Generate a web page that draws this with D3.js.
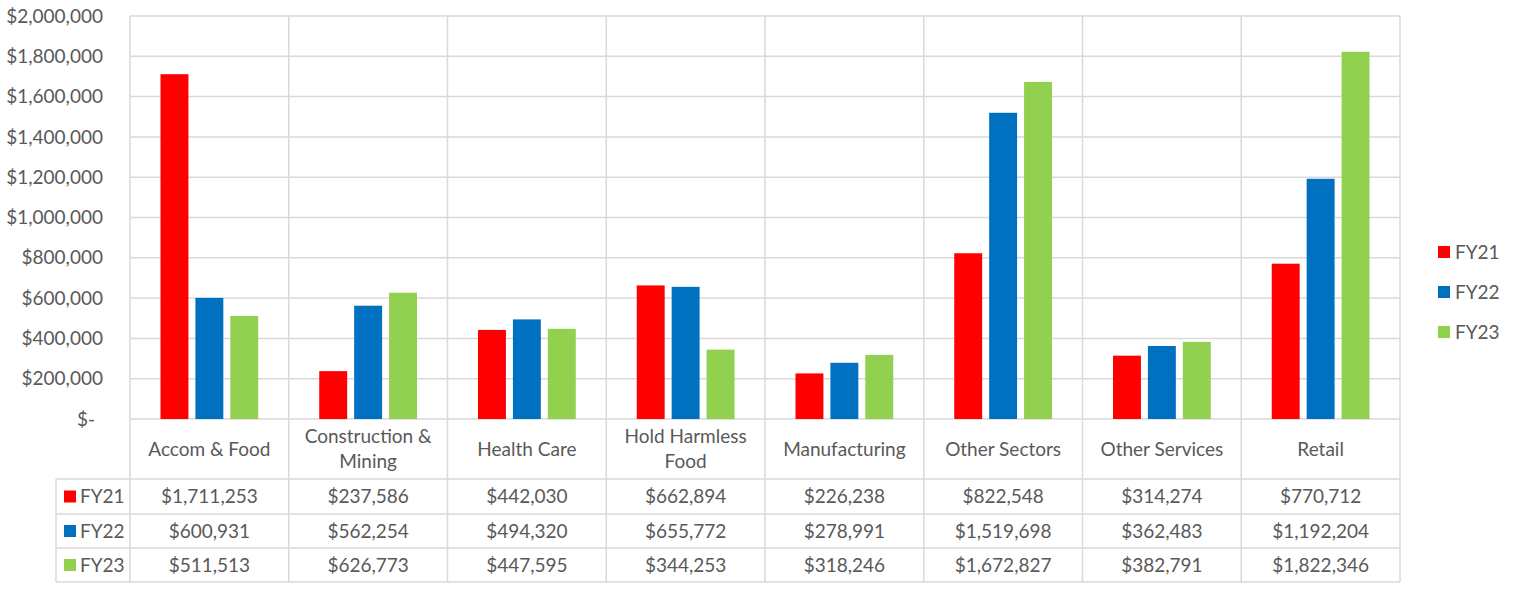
<!DOCTYPE html>
<html><head><meta charset="utf-8">
<script src="https://cdn.jsdelivr.net/npm/d3@7"></script>
<style>
html,body{margin:0;padding:0;background:#fff;}
text{font-family:Lato,"Open Sans",sans-serif;fill:#595959;}
</style></head>
<body><svg id="c" width="1518" height="590"></svg>
<script>
const categories = ["Accom & Food","Construction & Mining","Health Care","Hold Harmless Food","Manufacturing","Other Sectors","Other Services","Retail"];
const categoryLines = [["Accom & Food"],["Construction &","Mining"],["Health Care"],["Hold Harmless","Food"],["Manufacturing"],["Other Sectors"],["Other Services"],["Retail"]];
const seriesNames = ["FY21","FY22","FY23"];
const seriesColors = ["#ff0000","#0070c0","#92d050"];
const fy21 = [1711253,237586,442030,662894,226238,822548,314274,770712];
const fy22 = [600931,562254,494320,655772,278991,1519698,362483,1192204];
const fy23 = [511513,626773,447595,344253,318246,1672827,382791,1822346];
const yTicks = [0,200000,400000,600000,800000,1000000,1200000,1400000,1600000,1800000,2000000];

const seriesValues = [fy21, fy22, fy23];
const svg = d3.select("#c");
const L = 130, R = 1400, T = 16, B = 419;
const catRowBottom = 479, rowB = [514, 548, 582], tableLeft = 56;
const grid = "#d9d9d9";
const fs = "19px";

const x = d3.scaleBand().domain(categories).range([L, R]).paddingInner(0).paddingOuter(0);
const inner = d3.scaleBand().domain(seriesNames).range([30.5, x.bandwidth() - 30.5]).paddingInner(0.2).paddingOuter(0);
const y = d3.scaleLinear().domain([0, 2000000]).range([B, T]);

const fmt = d3.format(",");
const money = v => "$" + fmt(v);

svg.append("g").selectAll("line").data(yTicks).join("line")
  .attr("x1", L).attr("x2", R).attr("y1", d => y(d)).attr("y2", d => y(d))
  .attr("stroke", grid).attr("stroke-width", 1.5);

svg.append("g").selectAll("text").data(yTicks).join("text")
  .attr("x", d => d === 0 ? 95 : 103).attr("y", d => y(d)).attr("dy", "0.35em")
  .attr("text-anchor", "end").style("font-size", fs)
  .text(d => d === 0 ? "$-" : money(d));

const bounds = categories.map(c => x(c)).concat([R]);
svg.append("g").selectAll("line").data(bounds).join("line")
  .attr("x1", d => d).attr("x2", d => d).attr("y1", T).attr("y2", rowB[2])
  .attr("stroke", grid).attr("stroke-width", 1.5);

svg.append("g").selectAll("line").data([catRowBottom].concat(rowB)).join("line")
  .attr("x1", tableLeft).attr("x2", R).attr("y1", d => d).attr("y2", d => d)
  .attr("stroke", grid).attr("stroke-width", 1.5);
svg.append("line").attr("x1", tableLeft).attr("x2", tableLeft).attr("y1", catRowBottom).attr("y2", rowB[2])
  .attr("stroke", grid).attr("stroke-width", 1.5);

seriesNames.forEach((s, si) => {
  svg.append("g").selectAll("rect").data(categories).join("rect")
    .attr("x", c => x(c) + inner(s)).attr("width", inner.bandwidth())
    .attr("y", (c, i) => y(seriesValues[si][i])).attr("height", (c, i) => B - y(seriesValues[si][i]))
    .attr("fill", seriesColors[si]);
});

categories.forEach((c, i) => {
  const lines = categoryLines[i];
  const cx = x(c) + x.bandwidth() / 2;
  const cy = (B + catRowBottom) / 2;
  const lh = 25;
  lines.forEach((ln, k) => {
    svg.append("text").attr("x", cx).attr("y", cy + (k - (lines.length - 1) / 2) * lh)
      .attr("dy", "0.35em").attr("text-anchor", "middle").style("font-size", fs).text(ln);
  });
});

const rowTops = [catRowBottom, rowB[0], rowB[1]];
seriesNames.forEach((s, si) => {
  const cy = (rowTops[si] + rowB[si]) / 2;
  svg.append("g").selectAll("text").data(categories).join("text")
    .attr("x", c => x(c) + x.bandwidth() / 2).attr("y", cy).attr("dy", "0.35em")
    .attr("text-anchor", "middle").style("font-size", fs)
    .text((c, i) => money(seriesValues[si][i]));
  svg.append("rect").attr("x", 64).attr("y", cy - 6).attr("width", 12).attr("height", 12).attr("fill", seriesColors[si]);
  svg.append("text").attr("x", 80).attr("y", cy).attr("dy", "0.35em").style("font-size", fs).text(s);
});

seriesNames.forEach((s, si) => {
  const cy = 252 + si * 40;
  svg.append("rect").attr("x", 1438).attr("y", cy - 6).attr("width", 12).attr("height", 12).attr("fill", seriesColors[si]);
  svg.append("text").attr("x", 1455).attr("y", cy).attr("dy", "0.35em").style("font-size", fs).text(s);
});
</script></body></html>
